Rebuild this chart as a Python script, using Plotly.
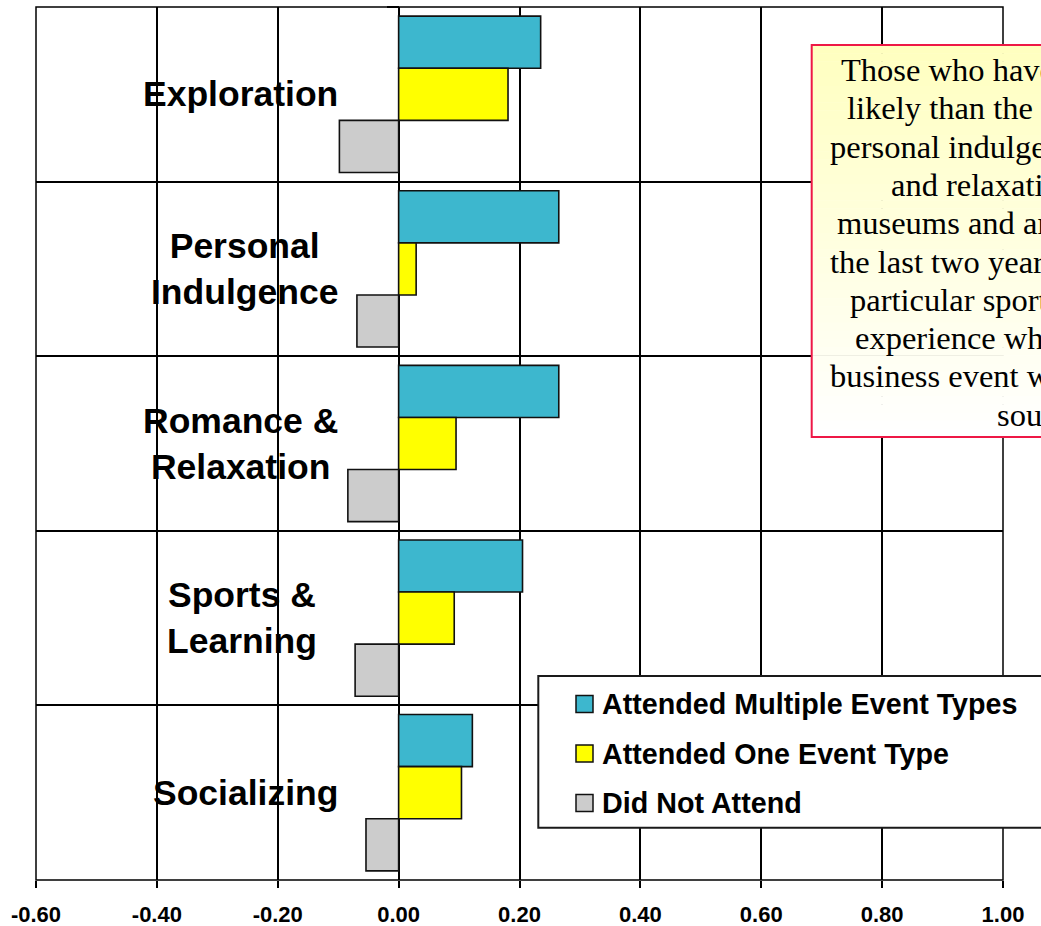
import plotly.graph_objects as go

# ---- data -------------------------------------------------------------
categories = ["Exploration", "Personal Indulgence", "Romance & Relaxation",
              "Sports & Learning", "Socializing"]
category_labels = ["Exploration", "Personal<br>Indulgence", "Romance &<br>Relaxation",
                   "Sports &<br>Learning", "Socializing"]

series_names = ["Attended Multiple Event Types", "Attended One Event Type", "Did Not Attend"]
multiple_types = [0.235, 0.265, 0.265, 0.205, 0.122]
one_type = [0.181, 0.029, 0.095, 0.092, 0.104]
did_not_attend = [-0.098, -0.069, -0.084, -0.072, -0.054]

x_tick_values = [-0.6, -0.4, -0.2, 0.0, 0.2, 0.4, 0.6, 0.8, 1.0]
x_tick_labels = ["-0.60", "-0.40", "-0.20", "0.00", "0.20", "0.40", "0.60", "0.80", "1.00"]

note_lines = [
    "Those who have attended events are more",
    "likely than the average to seek exploration,",
    "personal indulgence, and romance",
    "and relaxation. Those who visited",
    "museums and art galleries within",
    "the last two years, or who follow a",
    "particular sport, seek out the",
    "experience whether or not a",
    "business event was the reason it was",
    "sought.",
]

# ---- styling ----------------------------------------------------------
series_colors = ["#3DB7CE", "#FFFF00", "#CCCCCC"]
SANS = "Liberation Sans, Arial, sans-serif"
SERIF = "Liberation Serif, Times New Roman, serif"

W, H = 1041, 926
L, R, T, B = 36, 38, 7, 46
PW, PH = W - L - R, H - T - B


def fx(px):
    """pixel column -> paper x"""
    return (px - L) / PW


def fy(py):
    """pixel row -> paper y"""
    return (H - B - py) / PH


fig = go.Figure()
for name, vals, col in zip(series_names, [multiple_types, one_type, did_not_attend], series_colors):
    fig.add_trace(go.Bar(
        y=categories, x=vals, name=name, orientation="h",
        marker=dict(color=col, line=dict(color="#111111", width=1.6)),
        showlegend=False,
    ))

shapes = []
annotations = []

# plot frame
shapes.append(dict(type="rect", xref="paper", yref="paper", x0=0, x1=1, y0=0, y1=1,
                   line=dict(color="black", width=1.5), layer="above"))

# category labels beside the zero axis
for cat, lab in zip(categories, category_labels):
    annotations.append(dict(
        x=0, y=cat, xref="x", yref="y", text=lab, showarrow=False,
        xanchor="right", yanchor="middle", align="center",
        xshift=-59 - (21 if cat == "Sports & Learning" else 0),
        font=dict(family=SANS, size=35.5, color="black", weight="bold"),
    ))

# note box with a soft yellow-to-white fill
box_l, box_r, box_t, box_b = 811.7, 1200, 45, 437
n_strips = 48
step = (box_b - box_t) / n_strips
for i in range(n_strips):
    t = i / (n_strips - 1)
    b_ch = int(round(192 + (255 - 192) * t))
    shapes.append(dict(type="rect", xref="paper", yref="paper",
                       x0=fx(box_l), x1=fx(box_r),
                       y0=fy(box_t + (i + 1) * step + 0.5), y1=fy(box_t + i * step),
                       line=dict(width=0), fillcolor=f"rgb(255,255,{b_ch})", layer="above"))
shapes.append(dict(type="rect", xref="paper", yref="paper",
                   x0=fx(box_l), x1=fx(box_r), y0=fy(box_b), y1=fy(box_t),
                   line=dict(color="#EE1846", width=2), fillcolor="rgba(0,0,0,0)", layer="above"))

line_starts = [840.0, 846.0, 828.5, 890.0, 835.5, 828.5, 849.0, 853.5, 829.0, 995.5]
for i, (txt, x0) in enumerate(zip(note_lines, line_starts)):
    annotations.append(dict(
        x=fx(x0), y=fy(70 + 38.3 * i), xref="paper", yref="paper", text=txt,
        showarrow=False, xanchor="left", yanchor="middle", borderpad=0,
        font=dict(family=SERIF, size=32.5, color="black"),
    ))

# legend panel
leg_l, leg_r, leg_t, leg_b = 538.3, 1200, 676, 827.7
shapes.append(dict(type="rect", xref="paper", yref="paper",
                   x0=fx(leg_l), x1=fx(leg_r), y0=fy(leg_b), y1=fy(leg_t),
                   line=dict(color="#1a1a1a", width=2), fillcolor="white", layer="above"))
for i, (name, col) in enumerate(zip(series_names, series_colors)):
    cy = 704 + 49.5 * i
    shapes.append(dict(type="rect", xref="paper", yref="paper",
                       x0=fx(576), x1=fx(593), y0=fy(cy + 8.5), y1=fy(cy - 8.5),
                       line=dict(color="#111111", width=1.5), fillcolor=col, layer="above"))
    annotations.append(dict(
        x=fx(601), y=fy(cy), xref="paper", yref="paper", text=name, showarrow=False,
        xanchor="left", yanchor="middle", borderpad=0,
        font=dict(family=SANS, size=28.7, color="black", weight="bold"),
    ))

fig.update_layout(
    width=W, height=H,
    margin=dict(l=L, r=R, t=T, b=B, pad=0, autoexpand=False),
    paper_bgcolor="white", plot_bgcolor="white",
    barmode="group", bargap=0.105, bargroupgap=0,
    showlegend=False,
    shapes=shapes, annotations=annotations,
    xaxis=dict(
        range=[-0.6, 1.0], tickvals=x_tick_values, ticktext=x_tick_labels,
        showgrid=True, gridcolor="black", gridwidth=1.5, zeroline=False,
        ticks="outside", ticklen=7, tickwidth=1.5, tickcolor="black",
        ticklabelstandoff=8, automargin=False,
        tickfont=dict(family=SANS, size=22, color="black", weight="bold"),
        showline=False, fixedrange=True,
    ),
    yaxis=dict(
        categoryorder="array", categoryarray=categories,
        range=[len(categories) - 0.5, -0.5],
        anchor="free", position=fx(398.7), automargin=False,
        tickson="boundaries", showgrid=True, gridcolor="black", gridwidth=1.5,
        ticks="outside", ticklen=12, tickwidth=1.5, tickcolor="black",
        showticklabels=False, zeroline=False, showline=False, fixedrange=True,
    ),
)

fig.write_html("out.html", config={"displayModeBar": False})
